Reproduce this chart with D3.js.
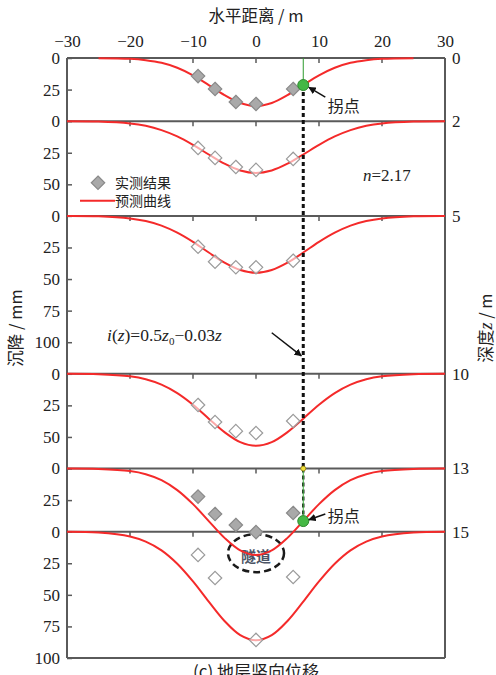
<!DOCTYPE html>
<html>
<head>
<meta charset="utf-8">
<script src="https://cdn.jsdelivr.net/npm/d3@7/dist/d3.min.js"></script>
<style>
  html, body { margin: 0; padding: 0; background: #fff; }
  svg { display: block; }
</style>
</head>
<body>
<svg id="chart" width="496" height="675"></svg>
<script>
// Horizontal distance (m) at which every predicted trough is sampled
const xSamples = [-30, -25, -20, -17.5, -15, -12.5, -10, -7.5, -5, -2.5, 0, 2.5, 5, 7.5, 10, 12.5, 15, 17.5, 20, 25, 30];

// Layer depths (m) at the top of each band, and the depth where each band ends
const layerDepths = [0, 2, 5, 10, 13, 15];
const layerBottoms = [2, 5, 10, 13, 15, 19];

// Predicted settlement troughs (mm), one row per layer depth
const predicted0  = [null, 0.1, 0.6, 1.7, 3.8, 7.7, 13.7, 21.4, 29.4, 35.6, 38, 35.6, 29.4, 21.4, 13.7, 7.7, 3.8, 1.7, 0.6, 0.1, null];
const predicted2  = [0, 0.3, 1.8, 3.7, 7.1, 12.1, 18.8, 26.4, 33.7, 39.0, 41, 39.0, 33.7, 26.4, 18.8, 12.1, 7.1, 3.7, 1.8, 0.3, 0];
const predicted5  = [0, 0.3, 2.0, 4.1, 7.7, 13.3, 20.6, 29.0, 37.0, 42.8, 45, 42.8, 37.0, 29.0, 20.6, 13.3, 7.7, 4.1, 2.0, 0.3, 0];
const predicted10 = [0, 0.3, 2.0, 4.3, 8.6, 15.3, 24.5, 35.5, 46.2, 54.1, 57, 54.1, 46.2, 35.5, 24.5, 15.3, 8.6, 4.3, 2.0, 0.3, 0];
const predicted13 = [0, 0.3, 2.0, 4.5, 9.2, 17.1, 28.2, 41.6, 54.9, 64.8, 68.5, 64.8, 54.9, 41.6, 28.2, 17.1, 9.2, 4.5, 2.0, 0.3, 0];
const predicted15 = [0.1, 0.7, 3.8, 7.9, 14.8, 25.4, 39.4, 55.4, 70.7, 81.9, 86, 81.9, 70.7, 55.4, 39.4, 25.4, 14.8, 7.9, 3.8, 0.7, 0.1];

// Measured settlements (mm)
const measuredX   = [-9.2, -6.5, -3.2, 0, 5.9];
const measured0   = [14.3, 24.5, 34.8, 36.4, 24.5];
const measured2   = [21.2, 29.1, 36.3, 38.6, 29.9];
const measured5   = [24.4, 36.3, 40.7, 40.7, 35.5];
const measured10  = [24.7, 38.2, 45.4, 46.9, 37.4];
const measured13  = [22.2, 36.0, 44.7, 50.3, 35.2];
const measured15X = [-9.2, -6.5, 0, 5.9];
const measured15  = [18.4, 36.7, 85.7, 35.9];

// Inflection point (m) marked on the surface and at 13 m
const inflectionX = 7.5;

// Axis tick labels
const xTicks = [-30, -20, -10, 0, 10, 20, 30];
const xInnerTicks = [-20, -10, 0, 10, 20];
const settlementTicks = [[0, 25], [0, 25, 50], [0, 25, 50, 75, 100], [0, 25, 50], [0, 25], [0, 25, 50, 75, 100]];

const layers = [
  { z: 0,  line: predicted0,  mx: measuredX,   my: measured0,  filled: true },
  { z: 2,  line: predicted2,  mx: measuredX,   my: measured2,  filled: false },
  { z: 5,  line: predicted5,  mx: measuredX,   my: measured5,  filled: false },
  { z: 10, line: predicted10, mx: measuredX,   my: measured10, filled: false },
  { z: 13, line: predicted13, mx: measuredX,   my: measured13, filled: true },
  { z: 15, line: predicted15, mx: measured15X, my: measured15, filled: false }
];

const SERIF = '"Liberation Serif", "Times New Roman", "DejaVu Serif", serif';
const CJK = '"Noto Sans CJK SC", "Noto Sans", sans-serif';
const ink = "#222";

const svg = d3.select("#chart");
const plotLeft = 67, plotRight = 445, plotTop = 58, plotBottom = 658;
const mmPerMetre = 25; // 25 mm of settlement share the height of 1 m of depth

const x = d3.scaleLinear().domain([-30, 30]).range([plotLeft, plotRight]);
const depth = d3.scaleLinear().domain([0, 19]).range([plotTop, plotBottom]);
const settle = (z0) => d3.scaleLinear().domain([0, mmPerMetre]).range([depth(z0), depth(z0 + 1)]);

const frameColor = "#5a5a5a";

const serifText = sel => sel.style("font-family", SERIF).style("font-size", "17px").style("fill", ink);
const cjkText = (sel, size) => sel.style("font-family", CJK).style("font-size", size + "px").style("fill", ink);

// defs: arrowhead
svg.append("defs").append("marker")
  .attr("id", "arrow").attr("viewBox", "0 0 10 10").attr("refX", 9).attr("refY", 5)
  .attr("markerWidth", 5).attr("markerHeight", 5).attr("orient", "auto")
  .append("path").attr("d", "M0,0 L10,5 L0,10 Z").attr("fill", "#111");

// Top axis labels
const topAxis = svg.append("g").attr("transform", `translate(0,${plotTop})`)
  .call(d3.axisTop(x).tickValues(xTicks).tickSize(0).tickPadding(11));
topAxis.select(".domain").remove();
topAxis.selectAll("text").call(serifText);

svg.append("text").attr("x", x(0)).attr("y", 22).attr("text-anchor", "middle")
  .call(cjkText, 16.5).text("水平距离 / m");

// Band separators, inner ticks and settlement axes
layerDepths.forEach((z0, k) => {
  const y0 = depth(z0);
  const s = d3.scaleLinear().domain([0, (layerBottoms[k] - z0) * mmPerMetre]).range([depth(z0), depth(layerBottoms[k])]);

  svg.append("line").attr("x1", plotLeft).attr("x2", plotRight).attr("y1", y0).attr("y2", y0)
    .attr("stroke", frameColor).attr("stroke-width", 2);

  svg.append("g").selectAll("line").data(xInnerTicks).join("line")
    .attr("x1", d => x(d)).attr("x2", d => x(d)).attr("y1", y0).attr("y2", y0 + 5)
    .attr("stroke", frameColor).attr("stroke-width", 1.5);

  const ax = svg.append("g").attr("transform", `translate(${plotLeft},0)`)
    .call(d3.axisLeft(s).tickValues(settlementTicks[k]).tickSize(-5).tickPadding(7));
  ax.select(".domain").remove();
  ax.selectAll("line").attr("stroke", frameColor).attr("stroke-width", 1.5);
  ax.selectAll("text").call(serifText);

  svg.append("text").attr("x", plotRight + 7).attr("y", y0).attr("dy", "0.35em")
    .call(serifText).text(z0);
});

// Outer frame
svg.append("line").attr("x1", plotLeft).attr("x2", plotLeft).attr("y1", plotTop).attr("y2", plotBottom).attr("stroke", frameColor).attr("stroke-width", 2);
svg.append("line").attr("x1", plotRight).attr("x2", plotRight).attr("y1", plotTop).attr("y2", plotBottom).attr("stroke", frameColor).attr("stroke-width", 2);
svg.append("line").attr("x1", plotLeft).attr("x2", plotRight).attr("y1", plotBottom).attr("y2", plotBottom).attr("stroke", frameColor).attr("stroke-width", 2);

// Axis titles
svg.append("text").attr("transform", `translate(22,${depth(8.55)}) rotate(-90)`).attr("text-anchor", "middle")
  .call(cjkText, 16.5).text("沉降 / mm");
const rt = svg.append("text").attr("transform", `translate(492,${depth(8.55)}) rotate(-90)`).attr("text-anchor", "middle")
  .call(cjkText, 16.5);
rt.append("tspan").text("深度");
rt.append("tspan").style("font-family", SERIF).style("font-style", "italic").style("font-size", "18px").text("z");
rt.append("tspan").text(" / m");

// Tunnel outline
svg.append("ellipse").attr("cx", x(0)).attr("cy", settle(15)(17)).attr("rx", x(4.45) - x(0)).attr("ry", 19)
  .attr("fill", "none").attr("stroke", "#1a1a1a").attr("stroke-width", 2.5).attr("stroke-dasharray", "7,4");
svg.append("text").attr("x", x(0)).attr("y", settle(15)(20)).attr("dy", "0.35em").attr("text-anchor", "middle")
  .call(cjkText, 15).style("font-weight", "bold").style("fill", "#4c5566").text("隧道");

// Predicted troughs
const lineGen = (z0) => d3.line()
  .defined(d => d[1] !== null)
  .x(d => x(d[0])).y(d => settle(z0)(d[1]))
  .curve(d3.curveCatmullRom);

layers.forEach(L => {
  svg.append("path").datum(xSamples.map((v, i) => [v, L.line[i]]))
    .attr("d", lineGen(L.z)).attr("fill", "none").attr("stroke", "#f42a2a").attr("stroke-width", 2);
});

// Inflection-point guide line
const inflY0 = settle(0)(predicted0[xSamples.indexOf(inflectionX)]);
const inflY13 = settle(13)(predicted13[xSamples.indexOf(inflectionX)]);
svg.append("line").attr("x1", x(inflectionX)).attr("x2", x(inflectionX)).attr("y1", depth(0)).attr("y2", inflY0)
  .attr("stroke", "#2d9a2d").attr("stroke-width", 1);
svg.append("line").attr("x1", x(inflectionX)).attr("x2", x(inflectionX)).attr("y1", inflY0).attr("y2", depth(13))
  .attr("stroke", "#111").attr("stroke-width", 3).attr("stroke-dasharray", "4,3");
svg.append("line").attr("x1", x(inflectionX)).attr("x2", x(inflectionX)).attr("y1", depth(13)).attr("y2", inflY13)
  .attr("stroke", "#222").attr("stroke-width", 2.5).attr("stroke-dasharray", "4,3");
svg.append("line").attr("x1", x(inflectionX)).attr("x2", x(inflectionX)).attr("y1", depth(13)).attr("y2", inflY13)
  .attr("stroke", "#3fae3f").attr("stroke-width", 1);
svg.append("circle").attr("cx", x(inflectionX)).attr("cy", depth(13)).attr("r", 2.5)
  .attr("fill", "#f2e03a").attr("stroke", "#8a7a10").attr("stroke-width", 0.8);

// Measured points
const diamond = d3.symbol().type(d3.symbolDiamond2).size(115);
layers.forEach(L => {
  svg.append("g").selectAll("path").data(L.mx.map((v, i) => [v, L.my[i]])).join("path")
    .attr("d", diamond)
    .attr("transform", d => `translate(${x(d[0])},${settle(L.z)(d[1])})`)
    .attr("fill", L.filled ? "#a9a9a9" : "#fff")
    .attr("fill-opacity", L.filled ? 1 : 0.6)
    .attr("stroke", L.filled ? "#8a8a8a" : "#9a9a9a").attr("stroke-width", 1.2);
});

// Inflection points with their labels: [y of point, label offset, arrow start offset]
[[inflY0, 21, 12], [inflY13, -5, -7]].forEach(([cy, labelDy, arrowDy]) => {
  svg.append("circle").attr("cx", x(inflectionX)).attr("cy", cy).attr("r", 5.5)
    .attr("fill", "#45b845").attr("stroke", "#2f8a2f").attr("stroke-width", 1);
  svg.append("line").attr("x1", x(11)).attr("y1", cy + arrowDy).attr("x2", x(8.4)).attr("y2", cy + arrowDy * 0.2)
    .attr("stroke", "#111").attr("stroke-width", 1.5).attr("marker-end", "url(#arrow)");
  svg.append("text").attr("x", x(11.4)).attr("y", cy + labelDy).attr("dy", "0.35em")
    .call(cjkText, 16).text("拐点");
});

// Legend
svg.append("path").attr("d", diamond).attr("transform", `translate(98,${depth(3.95)})`)
  .attr("fill", "#a9a9a9").attr("stroke", "#8a8a8a").attr("stroke-width", 1.2);
svg.append("text").attr("x", 115).attr("y", depth(3.95)).attr("dy", "0.35em")
  .call(cjkText, 14).text("实测结果");
svg.append("line").attr("x1", 80).attr("x2", 115).attr("y1", depth(4.52)).attr("y2", depth(4.52))
  .attr("stroke", "#f42a2a").attr("stroke-width", 2);
svg.append("text").attr("x", 115).attr("y", depth(4.52)).attr("dy", "0.35em")
  .call(cjkText, 14).text("预测曲线");

// Annotations
const nt = svg.append("text").attr("x", 363).attr("y", depth(3.7)).attr("dy", "0.35em").call(serifText);
nt.append("tspan").style("font-style", "italic").text("n");
nt.append("tspan").text("=2.17");

const it = svg.append("text").attr("x", 107).attr("y", depth(8.77)).attr("dy", "0.35em").call(serifText)
  .style("font-size", "17.5px");
it.append("tspan").style("font-style", "italic").text("i");
it.append("tspan").text("(");
it.append("tspan").style("font-style", "italic").text("z");
it.append("tspan").text(")=0.5");
it.append("tspan").style("font-style", "italic").text("z");
it.append("tspan").style("font-size", "11px").attr("dy", 4).text("0");
it.append("tspan").attr("dy", -4).text("−0.03");
it.append("tspan").style("font-style", "italic").text("z");

svg.append("line").attr("x1", x(2.5)).attr("y1", depth(8.7)).attr("x2", x(7.2)).attr("y2", depth(9.43))
  .attr("stroke", "#111").attr("stroke-width", 1.5).attr("marker-end", "url(#arrow)");

// Caption
svg.append("text").attr("x", x(0)).attr("y", 678).attr("text-anchor", "middle")
  .call(cjkText, 17).text("(c) 地层竖向位移");
</script>
</body>
</html>
